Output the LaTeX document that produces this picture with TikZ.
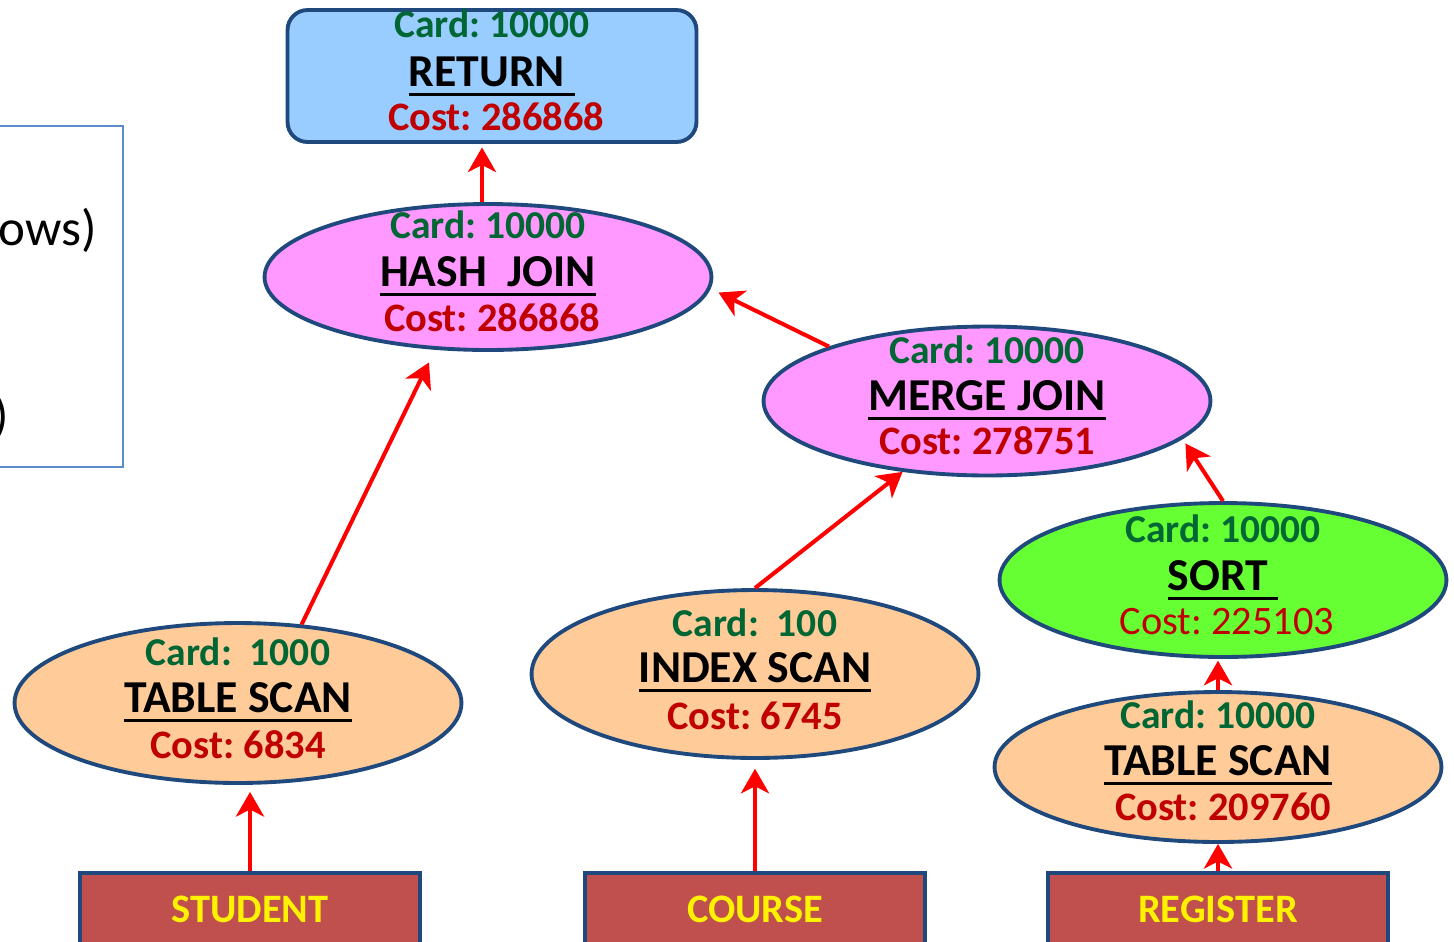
\documentclass[tikz,border=0pt]{standalone}
\usepackage{fontspec}
\setmainfont{Carlito}
\usetikzlibrary{shapes.geometric,arrows.meta,calc}
\definecolor{edgeblue}{HTML}{1F497D}
\definecolor{boxblue}{HTML}{5B8BC8}
\definecolor{retfill}{HTML}{99CCFF}
\definecolor{joinfill}{HTML}{FF99FF}
\definecolor{sortfill}{HTML}{66FF33}
\definecolor{scanfill}{HTML}{FFCC99}
\definecolor{tblfill}{HTML}{C0504D}
\definecolor{cardgreen}{HTML}{006633}
\definecolor{costred}{HTML}{C00000}
\newcommand{\uln}[1]{\sbox0{#1}\rlap{\rule[-5.5pt]{\wd0}{1.7pt}}\usebox0}
\frenchspacing
\begin{document}
\begin{tikzpicture}[x=0.02cm, y=-0.02cm, >={Stealth[length=14pt, width=16pt, inset=4pt]},
    op/.style={ellipse, draw=edgeblue, line width=2.2pt, minimum width=8.94cm, minimum height=3cm, inner sep=0pt},
    tbl/.style={draw=edgeblue, fill=tblfill, line width=2.2pt, minimum width=6.8cm, minimum height=1.44cm, text=yellow, font=\fontsize{23}{27}\selectfont\bfseries},
    cardtxt/.style={anchor=base, inner sep=0pt, text=cardgreen, font=\fontsize{22.5}{27}\selectfont\bfseries},
    titletxt/.style={anchor=base, inner sep=0pt, font=\fontsize{26}{30}\selectfont\bfseries},
    costtxt/.style={anchor=base, inner sep=0pt, text=costred, font=\fontsize{23}{27}\selectfont\bfseries},
    arr/.style={->, red, line width=2.3pt}]
    \useasboundingbox (0,0) rectangle (1454,941);
    % partial box at the left edge
    \draw[boxblue, line width=1.1pt] (-10,126) rectangle (123,467);
    \node[anchor=base east, inner sep=0pt, font=\fontsize{29}{34}\selectfont] (rows) at (97,245) {ows)};
    \node[anchor=base east, inner sep=0pt, font=\fontsize{29}{34}\selectfont] (paren) at (9,432) {)};
    % plan operators
    \node[draw=edgeblue, fill=retfill, line width=2.2pt, rounded corners=0.4cm, minimum width=8.18cm, minimum height=2.64cm] (ret) at (492,76) {};
    \node[cardtxt] at ($(ret)+(0,-39)$) {Card: 10000};
    \node[titletxt] at ($(ret)+(0,10)$) {\uln{RETURN\ }};
    \node[costtxt] at ($(ret)+(4,54)$) {Cost: 286868};
    \node[op, fill=joinfill, minimum height=2.92cm] (hj) at (488,277) {};
    \node[cardtxt] at ($(hj)+(0,-39)$) {Card: 10000};
    \node[titletxt] at ($(hj)+(0,9)$) {\uln{HASH~~JOIN}};
    \node[costtxt] at ($(hj)+(4,54)$) {Cost: 286868};
    \node[op, fill=joinfill, minimum height=2.98cm] (mj) at (987,401) {};
    \node[cardtxt] at ($(mj)+(0,-38)$) {Card: 10000};
    \node[titletxt] at ($(mj)+(0,9)$) {\uln{MERGE JOIN}};
    \node[costtxt] at ($(mj)+(0,53)$) {Cost: 278751};
    \node[op, fill=sortfill, minimum height=3.08cm] (sort) at (1223,580) {};
    \node[cardtxt] at ($(sort)+(0,-38)$) {Card: 10000};
    \node[titletxt] at ($(sort)+(0,10)$) {\uln{SORT\ }};
    \node[costtxt, font=\fontsize{23}{27}\selectfont] at ($(sort)+(4,54)$) {Cost: 225103};
    \node[op, fill=scanfill, minimum height=3cm] (ts2) at (1218,767) {};
    \node[cardtxt] at ($(ts2)+(0,-39)$) {Card: 10000};
    \node[titletxt] at ($(ts2)+(0,8)$) {\uln{TABLE SCAN}};
    \node[costtxt] at ($(ts2)+(5,53)$) {Cost: 209760};
    \node[op, fill=scanfill, minimum height=3.36cm] (is) at (755,674) {};
    \node[cardtxt] at ($(is)+(0,-38)$) {Card:~~100};
    \node[titletxt] at ($(is)+(0,8)$) {\uln{INDEX SCAN}};
    \node[costtxt] at ($(is)+(0,55)$) {Cost: 6745};
    \node[op, fill=scanfill, minimum height=3.2cm] (ts1) at (238,703) {};
    \node[cardtxt] at ($(ts1)+(0,-38)$) {Card:~~1000};
    \node[titletxt] at ($(ts1)+(0,9)$) {\uln{TABLE SCAN}};
    \node[costtxt] at ($(ts1)+(0,55)$) {Cost: 6834};
    % base tables
    \node[tbl] (student) at (250,909) {STUDENT};
    \node[tbl] (course) at (755,909) {COURSE};
    \node[tbl] (register) at (1218,909) {REGISTER};
    % data flow
    \draw[arr, shorten >=4pt] (student.north) -- (student.north |- ts1.south);
    \draw[arr, shorten >=8pt] (ts1.51) -- (hj.234);
    \draw[arr, shorten >=5pt] (course.north) -- (course.north |- is.south);
    \draw[arr] (is.north) -- (mj.220);
    \draw[arr] (register.north) -- (register.north |- ts2.south);
    \draw[arr, shorten >=1pt] (ts2.north) -- (ts2.north |- sort.south);
    \draw[arr, shorten >=3pt] (sort.north) -- (mj.349);
    \draw[arr, shorten >=5pt] (mj.161) -- (hj.357);
    \draw[arr, shorten >=2pt] ($(hj.north)+(-6,0)$) -- ($(hj.north |- ret.south)+(-6,0)$);
\end{tikzpicture}
\end{document}
